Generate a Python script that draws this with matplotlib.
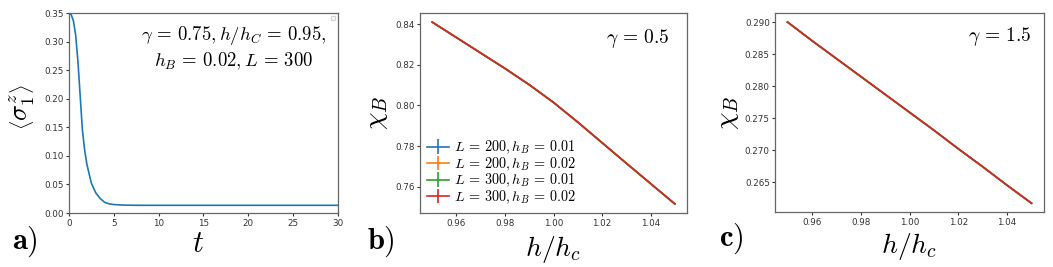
import numpy as np
import matplotlib
matplotlib.use('Agg')
import matplotlib.pyplot as plt
from matplotlib.ticker import MultipleLocator

plt.rcParams['mathtext.fontset'] = 'cm'
plt.rcParams['font.family'] = ['DejaVu Sans']

# panel a) : <sigma_1^z>(t)
t_vals = [0, 0.25, 0.5, 0.75, 1.0, 1.25, 1.5, 1.75, 2.0, 2.5, 3.0, 3.5,
          4.0, 4.5, 5.0, 6.0, 7.0, 8.0, 10, 15, 20, 25, 30]
sz_vals = [0.350, 0.347, 0.336, 0.311, 0.265, 0.205, 0.145, 0.110, 0.085,
           0.052, 0.035, 0.025, 0.0185, 0.0160, 0.0148, 0.0139, 0.0136,
           0.0135, 0.0135, 0.0135, 0.0135, 0.0135, 0.0135]

# panel b) / c) : chi_B vs h/h_c
h_vals = [0.95, 0.96, 0.97, 0.98, 0.99, 1.00, 1.01, 1.02, 1.03, 1.04, 1.05]
chi_g05 = [0.8410, 0.8334, 0.8258, 0.8182, 0.8102, 0.8015, 0.7918, 0.7817,
           0.7716, 0.7616, 0.7516]
chi_g15 = [0.2900, 0.2871, 0.2843, 0.2815, 0.2787, 0.2759, 0.2731, 0.2702,
           0.2674, 0.2645, 0.2617]
err_zero = [0.0] * len(h_vals)

series_labels = [r'$L\,=\,200, h_B\,=\,0.01$', r'$L\,=\,200, h_B\,=\,0.02$',
                 r'$L\,=\,300, h_B\,=\,0.01$', r'$L\,=\,300, h_B\,=\,0.02$']
series_colors = ['tab:blue', 'tab:orange', 'tab:green', 'tab:red']

fig = plt.figure(figsize=(10.53, 2.67), dpi=100)
ax1 = fig.add_axes([0.0655, 0.2022, 0.2555, 0.7491])
ax2 = fig.add_axes([0.3989, 0.2022, 0.2535, 0.7491])
ax3 = fig.add_axes([0.7363, 0.2049, 0.2549, 0.7464])

for ax in (ax1, ax2, ax3):
    ax.tick_params(labelsize=6.3, length=2.5, pad=1.5, colors='#333333')
    for s in ax.spines.values():
        s.set_color('#666666')
        s.set_linewidth(0.9)

# a)
ax1.plot(t_vals, sz_vals, color='tab:blue', lw=1.2)
ax1.set_xlim(0, 30)
ax1.set_ylim(0, 0.35)
ax1.xaxis.set_major_locator(MultipleLocator(5))
ax1.yaxis.set_major_locator(MultipleLocator(0.05))
ax1.set_ylabel(r'$\left\langle\sigma_1^z\right\rangle$', fontsize=19, va='center')
ax1.yaxis.set_label_coords(-0.175, 0.53)
ax1.set_xlabel(r'$t$', fontsize=22, va='center')
ax1.xaxis.set_label_coords(0.48, -0.15)
ax1.text(0.613, 0.825,
         '$\\gamma\\,=\\,0.75, h/h_C\\,=\\,0.95,$\n$h_B\\,=\\,0.02, L\\,=\\,300$',
         transform=ax1.transAxes, ha='center', va='center',
         multialignment='center', fontsize=13.5, linespacing=1.3)
ax1.legend(handles=[], labels=[], loc='upper right', fontsize=4)

# b)
for lab, col in zip(series_labels, series_colors):
    ax2.errorbar(h_vals, chi_g05, yerr=err_zero, color=col, lw=1.2, label=lab)
ax2.xaxis.set_major_locator(MultipleLocator(0.02))
ax2.yaxis.set_major_locator(MultipleLocator(0.02))
ax2.set_ylabel(r'$\chi_B$', fontsize=20, va='center')
ax2.yaxis.set_label_coords(-0.165, 0.5)
ax2.set_xlabel(r'$h/h_c$', fontsize=20, va='center')
ax2.xaxis.set_label_coords(0.5, -0.18)
ax2.text(0.816, 0.875, r'$\gamma\,=\,0.5$', transform=ax2.transAxes,
         ha='center', va='center', fontsize=14)
ax2.legend(loc='lower left', fontsize=10.3, frameon=False, handlelength=1.5,
           handletextpad=0.4, labelspacing=-0.05, borderaxespad=0.2,
           borderpad=0.3)

# c)
for lab, col in zip(series_labels, series_colors):
    ax3.errorbar(h_vals, chi_g15, yerr=err_zero, color=col, lw=1.2, label=lab)
ax3.xaxis.set_major_locator(MultipleLocator(0.02))
ax3.yaxis.set_major_locator(MultipleLocator(0.005))
ax3.set_ylabel(r'$\chi_B$', fontsize=20, va='center')
ax3.yaxis.set_label_coords(-0.18, 0.5)
ax3.set_xlabel(r'$h/h_c$', fontsize=20, va='center')
ax3.xaxis.set_label_coords(0.5, -0.17)
ax3.text(0.835, 0.881, r'$\gamma\,=\,1.5$', transform=ax3.transAxes,
         ha='center', va='center', fontsize=14)

# panel tags
fig.text(0.024, 0.095, r'$\mathbf{a)}$', fontsize=22, ha='center', va='center')
fig.text(0.362, 0.095, r'$\mathbf{b)}$', fontsize=22, ha='center', va='center')
fig.text(0.694, 0.105, r'$\mathbf{c)}$', fontsize=22, ha='center', va='center')

fig.savefig('out.png', dpi=100)
